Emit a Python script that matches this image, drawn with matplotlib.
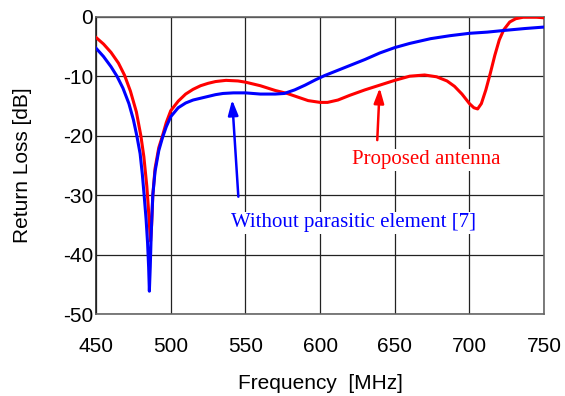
import matplotlib
matplotlib.use("Agg")
import matplotlib.pyplot as plt

plt.rcParams["axes.unicode_minus"] = False

# Proposed antenna (red)
red_freq = [450, 455, 460, 465, 469, 473, 477, 480, 482, 484, 485, 486, 486.5,
            487.2, 488, 489.5, 492, 494.5, 497, 500, 505, 510, 515, 520, 525,
            530, 537, 545, 550, 560, 570, 578, 585, 592, 600, 605, 612, 620,
            630, 640, 650, 660, 670, 678, 685, 690, 695, 700, 703, 705.5, 708,
            711, 714, 717, 720, 723, 727, 731, 736, 745, 750]
red_rl = [-3.5, -4.6, -6.0, -7.8, -9.8, -12.5, -16.0, -20.0, -23.5, -28.5, -32.0,
          -36.0, -37.7, -35.0, -30.0, -25.5, -22.0, -20.0, -17.8, -15.8, -14.2,
          -13.0, -12.2, -11.6, -11.2, -10.9, -10.7, -10.8, -11.0, -11.6, -12.4,
          -12.9, -13.5, -14.1, -14.4, -14.4, -14.0, -13.2, -12.3, -11.5, -10.7,
          -10.0, -9.8, -10.1, -10.8, -11.7, -13.0, -14.6, -15.3, -15.5, -14.6,
          -12.3, -9.5, -6.5, -3.9, -2.2, -0.9, -0.35, -0.1, -0.1, -0.2]

# Without parasitic element [7] (blue)
blue_freq = [450, 455, 460, 464, 468, 472, 475, 477.3, 479.5, 481, 482.2, 483.5,
             484.5, 485.2, 485.7, 486.3, 487, 488, 489.5, 492, 494.5, 497, 500,
             505, 510, 515, 520, 525, 530, 535, 542, 550, 560, 570, 576, 583,
             590, 597, 603, 610, 620, 630, 640, 650, 660, 674, 687, 700, 712,
             724, 737, 750]
blue_rl = [-5.3, -6.7, -8.4, -10.0, -12.0, -14.6, -17.3, -20.0, -23.0, -26.5,
           -30.0, -34.0, -38.0, -42.0, -46.1, -42.0, -36.0, -30.0, -26.0, -22.5,
           -20.3, -18.5, -16.8, -15.3, -14.5, -14.0, -13.7, -13.4, -13.1, -12.9,
           -12.8, -12.8, -13.0, -13.0, -12.9, -12.3, -11.5, -10.6, -9.9, -9.2,
           -8.2, -7.2, -6.1, -5.2, -4.5, -3.7, -3.2, -2.8, -2.6, -2.3, -2.0, -1.75]

x_ticks = [450, 500, 550, 600, 650, 700, 750]
y_ticks = [0, -10, -20, -30, -40, -50]

fig = plt.figure(figsize=(5.65, 3.96), dpi=100)
ax = fig.add_axes([0.170, 0.206, 0.793, 0.752])

ax.plot(red_freq, red_rl, color="#ff0000", lw=2.2, zorder=3)
ax.plot(blue_freq, blue_rl, color="#0000ff", lw=2.2, zorder=3)

ax.set_xlim(450, 750)
ax.set_ylim(-50, 0)
ax.set_xticks(x_ticks)
ax.set_yticks(y_ticks)
ax.grid(True, color="#222222", lw=0.9)
ax.set_axisbelow(True)
for s in ax.spines.values():
    s.set_color("#666666")
    s.set_linewidth(1.2)
ax.spines["left"].set_color("#222222")

sans = ["Liberation Sans", "DejaVu Sans"]
ax.tick_params(axis="x", length=0, pad=16, labelsize=15)
ax.tick_params(axis="y", length=0, pad=2, labelsize=15)
for lab in ax.get_xticklabels() + ax.get_yticklabels():
    lab.set_fontfamily(sans)
ax.set_xlabel("Frequency  [MHz]", fontsize=15, family=sans, labelpad=13)
ax.set_ylabel("Return Loss [dB]", fontsize=15, family=sans, labelpad=22)

serif = ["Liberation Serif", "DejaVu Serif"]
ax.annotate("", xy=(640, -11.5), xytext=(638.2, -21.2),
            arrowprops=dict(arrowstyle="-|>,head_length=0.9,head_width=0.3",
                            color="#ff0000", lw=1.8), zorder=4)
ax.annotate("", xy=(541, -13.5), xytext=(545.4, -30.7),
            arrowprops=dict(arrowstyle="-|>,head_length=0.9,head_width=0.3",
                            color="#0000ff", lw=1.8), zorder=4)
ax.text(671.2, -24.0, "Proposed antenna", color="#ff0000", fontsize=15,
        family=serif, ha="center", va="center", zorder=5,
        bbox=dict(facecolor="white", edgecolor="none", pad=1))
ax.text(622.3, -34.6, "Without parasitic element [7]", color="#0000ff",
        fontsize=15, family=serif, ha="center", va="center", zorder=5,
        bbox=dict(facecolor="white", edgecolor="none", pad=1))

fig.savefig("out.png", dpi=100)
